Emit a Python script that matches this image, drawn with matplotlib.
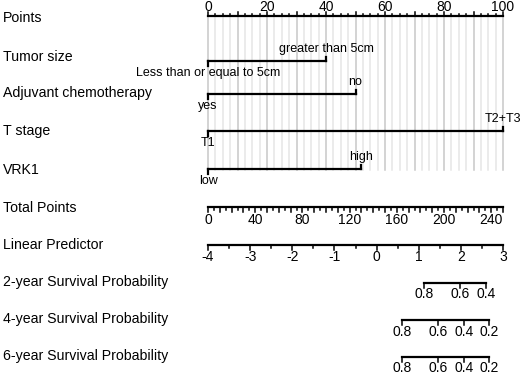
import numpy as np
import matplotlib
matplotlib.use("Agg")
import matplotlib.pyplot as plt

plt.rcParams['font.family'] = ['Liberation Sans', 'DejaVu Sans']

# row labels
row_labels = ["Points", "Tumor size", "Adjuvant chemotherapy", "T stage", "VRK1",
              "Total Points", "Linear Predictor", "2-year Survival Probability",
              "4-year Survival Probability", "6-year Survival Probability"]

# categorical predictors: (low label, high label, points of high level)
var_names = ["Tumor size", "Adjuvant chemotherapy", "T stage", "VRK1"]
var_low = ["Less than or equal to 5cm", "yes", "T1", "low"]
var_high = ["greater than 5cm", "no", "T2+T3", "high"]
var_points = [40, 50, 100, 52]

# total points scale
total_max = 250
total_labels = [0, 40, 80, 120, 160, 200, 240]

# linear predictor scale
lp_min, lp_max = -4, 3
lp_labels = [-4, -3, -2, -1, 0, 1, 2, 3]

# survival probability ticks and their linear predictor positions
surv_labels = [[0.8, 0.6, 0.4], [0.8, 0.6, 0.4, 0.2], [0.8, 0.6, 0.4, 0.2]]
surv_lp = [[1.13, 1.98, 2.60], [0.60, 1.46, 2.07, 2.67], [0.60, 1.46, 2.07, 2.67]]

fig = plt.figure(figsize=(5.26, 3.76), dpi=100)
ax = fig.add_axes([0, 0, 1, 1])
x0, ppp = 208, 2.95  # pixel of 0 points, pixels per point
ax.set_xlim(-x0 / ppp, (526 - x0) / ppp)
ax.set_ylim(376, 0)
ax.axis("off")

row_y = [18, 57, 93, 131, 170, 208, 245, 282, 319, 356]
for lab, y in zip(row_labels, row_y):
    ax.text(-x0 / ppp + 3 / ppp, y, lab, fontsize=10.2, va="center", ha="left")

lw = 1.6
fs_tick = 10
fs_lab = 9

# grid lines
grid_top, grid_bot = 16, 170
for g in np.arange(0, 100.01, 2.5):
    major = abs(g % 10) < 1e-9
    ax.plot([g, g], [grid_top, grid_bot], color="#c8c8c8" if major else "#e6e6e6",
            lw=1.1, zorder=0)

# Points axis
py = 16
ax.plot([0, 100], [py, py], color="black", lw=lw)
for t in np.arange(0, 100.01, 2.5):
    L = 4.5 if abs(t % 10) < 1e-9 else 2.5
    ax.plot([t, t], [py, py - L], color="black", lw=1.1)
for t in range(0, 101, 20):
    ax.text(t, 7, str(t), fontsize=fs_tick, ha="center", va="center")

# variables
line_y = [61, 94, 131, 169]
for y, lo, hi, p in zip(line_y, var_low, var_high, var_points):
    ax.plot([0, p], [y, y], color="black", lw=lw)
    ax.plot([0, 0], [y, y + 4.5], color="black", lw=lw)
    ax.plot([p, p], [y, y - 4.5], color="black", lw=lw)
    ax.text(p, y - 12, hi, fontsize=fs_lab, ha="center", va="center")
    ax.text(0, y + 12, lo, fontsize=fs_lab, ha="center", va="center")

# Total points axis
ty = 207
ax.plot([0, 100], [ty, ty], color="black", lw=lw)
for t in np.arange(0, total_max + 0.01, 5):
    L = 4.5 if t % 10 == 0 else 2.5
    x = t * 100 / total_max
    ax.plot([x, x], [ty, ty + L], color="black", lw=1.1)
for t in total_labels:
    ax.text(t * 100 / total_max, 220, str(t), fontsize=fs_tick, ha="center", va="center")

# Linear predictor axis
def lp2pts(v):
    return (np.asarray(v) - lp_min) / (lp_max - lp_min) * 100

ly = 245
ax.plot([0, 100], [ly, ly], color="black", lw=lw)
for t in np.arange(lp_min, lp_max + 0.01, 0.5):
    L = 4.5 if float(t).is_integer() else 2.5
    x = lp2pts(t)
    ax.plot([x, x], [ly, ly + L], color="black", lw=1.1)
for t in lp_labels:
    ax.text(lp2pts(t), 257, str(t), fontsize=fs_tick, ha="center", va="center")

# survival axes
surv_y = [283, 320, 357]
for y, labs, pos in zip(surv_y, surv_labels, surv_lp):
    xs = lp2pts(pos)
    ax.plot([xs.min(), xs.max()], [y, y], color="black", lw=lw)
    for x, l in zip(xs, labs):
        ax.plot([x, x], [y, y + 4.5], color="black", lw=1.1)
        ax.text(x, y + 11.5, f"{l:.1f}", fontsize=fs_tick, ha="center", va="center")

fig.savefig("out.png", dpi=100)
